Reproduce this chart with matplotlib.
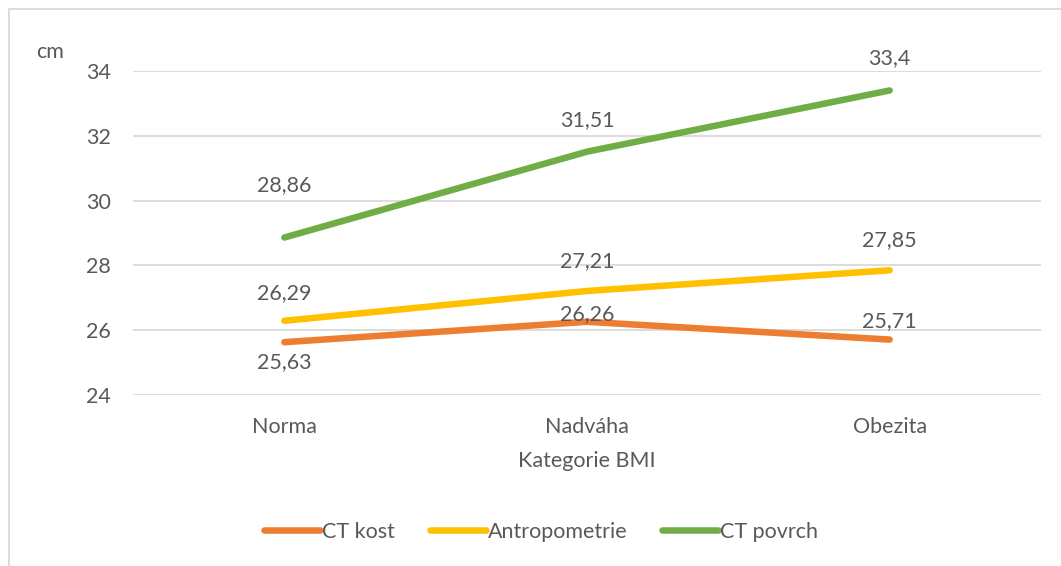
import matplotlib
matplotlib.use("Agg")
import matplotlib.pyplot as plt
from matplotlib.patches import Rectangle

plt.rcParams['font.family'] = ['Lato', 'DejaVu Sans']

categories = ["Norma", "Nadváha", "Obezita"]
ct_kost = [25.63, 26.26, 25.71]
antropometrie = [26.29, 27.21, 27.85]
ct_povrch = [28.86, 31.51, 33.4]

series = [
    ("CT kost", ct_kost, "#ED7D31", [(0, -20), (0, 8), (0, 19)]),
    ("Antropometrie", antropometrie, "#FFC000", [(0, 28), (0, 30), (0, 30)]),
    ("CT povrch", ct_povrch, "#70AD47", [(0, 52), (0, 32), (0, 32)]),
]

txt = "#595959"
fs = 15.5
fig = plt.figure(figsize=(10.61, 5.66), dpi=100)
ax = fig.add_axes([133 / 1061, 1 - 395 / 566, (1041 - 133) / 1061, (395 - 71) / 566])

x = list(range(len(categories)))
for name, vals, col, offs in series:
    ax.plot(x, vals, color=col, lw=4.7, solid_capstyle='round', label=name, zorder=3)
    for xi, v, (dx, dy) in zip(x, vals, offs):
        lbl = ("%g" % v).replace(".", ",")
        ax.annotate(lbl, (xi, v), xytext=(dx, dy), textcoords='offset pixels',
                    ha='center', va='center', fontsize=fs, color=txt, zorder=4)

ax.set_xlim(-0.5, 2.5)
ax.set_ylim(24, 34)
ax.set_yticks([24, 26, 28, 30, 32, 34])
ax.set_xticks(x)
ax.set_xticklabels(categories)
ax.grid(axis='y', color='#D9D9D9', lw=1.3)
ax.set_axisbelow(True)
for s in ax.spines.values():
    s.set_visible(False)
ax.tick_params(length=0, labelsize=fs, labelcolor=txt)
ax.tick_params(axis='x', pad=16)
ax.tick_params(axis='y', pad=16)
ax.set_xlabel("Kategorie BMI", fontsize=fs, color=txt, labelpad=10)

fig.text(50 / 1061, 1 - 52 / 566, "cm", fontsize=fs, color=txt, ha='center', va='center')

fig.legend(loc='center', bbox_to_anchor=(541 / 1061, 1 - 532 / 566), ncol=3, frameon=False,
           fontsize=fs, handlelength=2.6, handletextpad=0.1, columnspacing=1.6,
           labelcolor=txt)

# chart border (cropped on right and bottom)
fig.patches.append(Rectangle((9 / 1061, -0.1), 1.2, 1 - 9 / 566 + 0.1, transform=fig.transFigure,
                             fill=False, edgecolor='#D9D9D9', lw=1.3))

fig.savefig("out.png", dpi=100)
